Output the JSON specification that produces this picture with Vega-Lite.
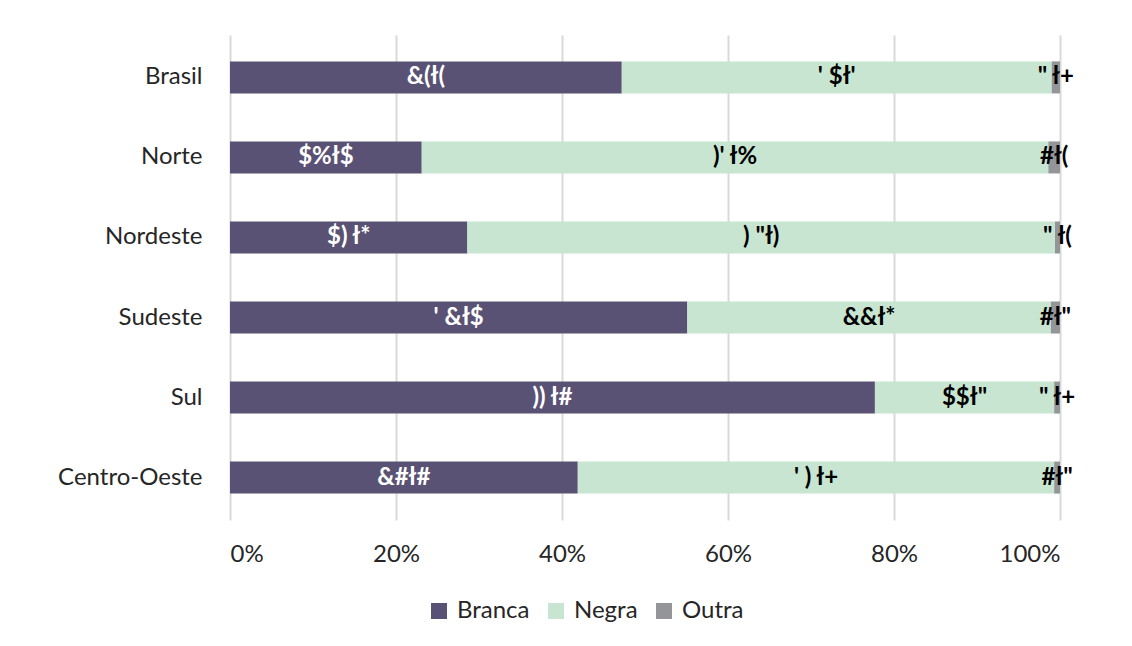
{
  "$schema": "https://vega.github.io/schema/vega-lite/v6.json",
  "autosize": "none",
  "width": 830,
  "height": 485,
  "padding": {"left": 230, "top": 35, "right": 72, "bottom": 126},
  "background": "white",
  "config": {
    "font": "Lato",
    "view": {"stroke": null},
    "axis": {"labelFont": "Lato", "labelFontSize": 24, "labelColor": "#262626", "domain": false, "ticks": false}
  },
  "data": {
    "values": [
      {"reg": "Brasil", "cat": "Branca", "v": 47.2, "lab": "&(ł("},
      {"reg": "Brasil", "cat": "Negra", "v": 51.8, "lab": "' $ł'"},
      {"reg": "Brasil", "cat": "Outra", "v": 1.0, "lab": "\" ł+"},
      {"reg": "Norte", "cat": "Branca", "v": 23.1, "lab": "$%ł$"},
      {"reg": "Norte", "cat": "Negra", "v": 75.5, "lab": ")' ł%"},
      {"reg": "Norte", "cat": "Outra", "v": 1.4, "lab": "#ł("},
      {"reg": "Nordeste", "cat": "Branca", "v": 28.6, "lab": "$) ł*"},
      {"reg": "Nordeste", "cat": "Negra", "v": 70.8, "lab": ") \"ł)"},
      {"reg": "Nordeste", "cat": "Outra", "v": 0.6, "lab": "\" ł("},
      {"reg": "Sudeste", "cat": "Branca", "v": 55.1, "lab": "' &ł$"},
      {"reg": "Sudeste", "cat": "Negra", "v": 43.8, "lab": "&&ł*"},
      {"reg": "Sudeste", "cat": "Outra", "v": 1.1, "lab": "#ł\""},
      {"reg": "Sul", "cat": "Branca", "v": 77.7, "lab": ")) ł#"},
      {"reg": "Sul", "cat": "Negra", "v": 21.6, "lab": "$$ł\""},
      {"reg": "Sul", "cat": "Outra", "v": 0.7, "lab": "\" ł+"},
      {"reg": "Centro-Oeste", "cat": "Branca", "v": 41.9, "lab": "&#ł#"},
      {"reg": "Centro-Oeste", "cat": "Negra", "v": 57.4, "lab": "' ) ł+"},
      {"reg": "Centro-Oeste", "cat": "Outra", "v": 0.7, "lab": "#ł\""}
    ]
  },
  "transform": [
    {"stack": "v", "groupby": ["reg"], "sort": [{"field": "cat", "order": "ascending"}], "as": ["v0", "v1"]}
  ],
  "encoding": {
    "y": {
      "field": "reg", "type": "nominal", "sort": null, "title": null,
      "scale": {"paddingInner": 0.6, "paddingOuter": 0.33},
      "axis": {"labelPadding": 28, "grid": false}
    }
  },
  "layer": [
    {
      "mark": {"type": "bar"},
      "encoding": {
        "x": {
          "field": "v0", "type": "quantitative", "title": null,
          "scale": {"domain": [0, 100], "nice": false},
          "axis": {"values": [0, 20, 40, 60, 80, 100], "labelExpr": "datum.value + '%'", "grid": true, "gridColor": "#d9d9d9", "gridWidth": 2, "labelPadding": 22, "labelColor": "#262626"}
        },
        "x2": {"field": "v1"},
        "color": {
          "field": "cat", "type": "nominal", "title": null,
          "scale": {"domain": ["Branca", "Negra", "Outra"], "range": ["#5a5274", "#c7e5d0", "#939598"]},
          "legend": {
            "orient": "none", "direction": "horizontal", "legendX": 197, "legendY": 564,
            "symbolType": "square", "symbolSize": 256, "symbolStrokeWidth": 0, "symbolOpacity": 1,
            "labelFont": "Lato", "labelFontSize": 24, "labelColor": "#262626", "labelOffset": 6, "columnPadding": 14, "padding": 0
          }
        }
      }
    },
    {
      "transform": [
        {"fold": ["v0", "v1"], "as": ["edge", "pos"]},
        {"aggregate": [{"op": "mean", "field": "pos", "as": "mid"}], "groupby": ["reg", "cat", "lab"]}
      ],
      "mark": {"type": "text", "font": "Lato", "fontWeight": "bold", "fontSize": 24, "baseline": "middle", "align": "center"},
      "encoding": {
        "x": {"field": "mid", "type": "quantitative"},
        "text": {"field": "lab"},
        "color": {
          "condition": {"test": "datum.cat === 'Branca'", "value": "white"},
          "value": "#000000"
        }
      }
    }
  ]
}
